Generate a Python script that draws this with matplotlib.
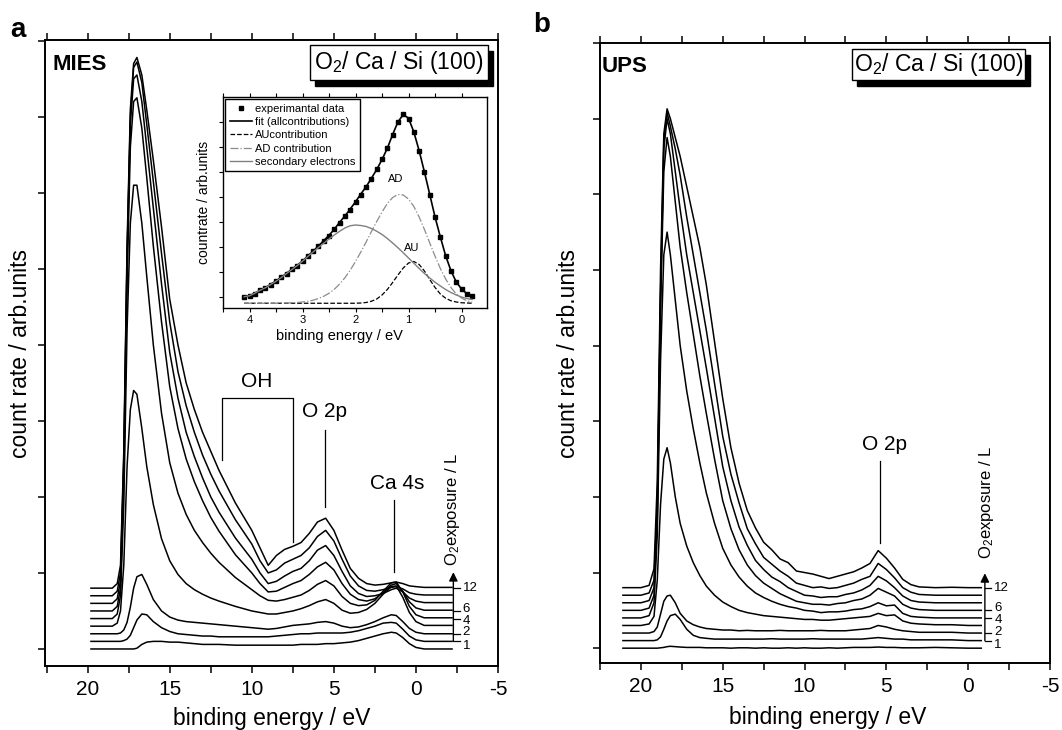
import matplotlib
matplotlib.use("Agg")
import matplotlib.pyplot as plt
import numpy as np
from matplotlib.patches import Rectangle

plt.rcParams['font.family'] = ['Liberation Sans', 'DejaVu Sans']
plt.rcParams['mathtext.fontset'] = 'custom'
plt.rcParams['mathtext.rm'] = 'Liberation Sans'
plt.rcParams['mathtext.it'] = 'Liberation Sans:italic'

W, H = 1062, 730

# ---- MIES spectra (panel a), heights above each curve's own baseline ----
exposures = [0, 1, 2, 3, 4, 6, 8, 10, 12]
labelled = [1, 2, 4, 6, 12]
label_nudge = [-0.6, 0.2, -0.3, 0.25, 0.0]   # small vertical shifts of the scale numbers

mies_energy = [19.8, 18.5, 18.2, 18.0, 17.8, 17.6, 17.4, 17.2, 17.0, 16.7,
               16.4, 16.0, 15.5, 15.0, 14.5, 14.0, 13.5, 13.0, 12.5, 12.0,
               11.0, 10.0, 9.5, 9.0, 8.5, 8.0, 7.5, 7.0, 6.5, 6.0,
               5.5, 5.0, 4.5, 4.0, 3.5, 3.0, 2.5, 2.0, 1.5, 1.2,
               0.8, 0.4, 0.0, -0.5, -2.2]
mies_0L = [0, 0, 0, 0, 0, 0, 0, 0, 0.1, 0.6, 0.9, 1.0, 1.0, 0.9, 0.9, 0.8, 0.7, 0.6, 0.6, 0.6,
           0.5, 0.5, 0.5, 0.5, 0.5, 0.5, 0.5, 0.6, 0.6, 0.6, 0.7, 0.7, 0.8, 0.9, 1.1, 1.4, 1.7, 2.0, 2.2, 2.1,
           1.5, 0.7, 0.2, 0.0, 0.0]
mies_1L = [0, 0, 0, 0, 0.1, 0.3, 0.8, 1.8, 2.8, 3.6, 3.5, 2.6, 1.8, 1.3, 1.0, 0.9, 0.8, 0.7, 0.7, 0.6,
           0.6, 0.6, 0.6, 0.6, 0.7, 0.8, 0.9, 1.0, 1.0, 1.1, 1.1, 1.1, 1.1, 1.2, 1.4, 1.7, 2.0, 2.4, 2.5, 2.4,
           1.6, 0.7, 0.2, 0.0, 0.0]
mies_2L = [0, 0, 0, 0.1, 0.5, 1.5, 3.5, 6.0, 7.5, 7.8, 6.5, 4.5, 3.0, 2.2, 1.8, 1.6, 1.5, 1.4, 1.3, 1.2,
           1.0, 0.8, 0.7, 0.6, 0.7, 0.9, 1.1, 1.2, 1.3, 1.5, 1.6, 1.4, 1.0, 0.8, 0.9, 1.2, 1.6, 2.1, 2.5, 2.4,
           1.6, 0.7, 0.2, 0.0, 0.0]
mies_3L = [0, 0, 0.4, 2, 8, 21, 28.5, 31, 30.5, 26, 21, 16, 11.5, 8.6, 6.8, 5.6, 4.8, 4.2, 3.7, 3.3,
           2.6, 2.0, 1.8, 1.6, 1.6, 1.8, 2.0, 2.3, 2.7, 3.2, 3.5, 3.0, 2.1, 1.7, 1.8, 2.2, 3.0, 4.2, 5.2, 5.3,
           3.8, 1.8, 0.6, 0.1, 0.1]
mies_4L = [0, 0, 0.6, 3, 15, 38, 52, 57, 57, 52, 45, 36, 27, 20.5, 16.5, 13.7, 11.6, 10, 8.6, 7.4,
           5.4, 3.8, 3.0, 2.4, 2.3, 2.5, 2.8, 3.1, 3.7, 4.5, 5.0, 4.3, 2.9, 2.0, 1.7, 1.8, 2.4, 3.6, 4.7, 4.8,
           3.5, 1.6, 0.5, 0.1, 0.1]
mies_6L = [0, 0, 0.6, 3, 17, 43, 61, 67, 67.5, 63.5, 57, 48, 38, 29.5, 24, 20, 17, 14.5, 12.3, 10.5,
           7.4, 5.0, 3.6, 2.5, 2.6, 3.1, 3.6, 4.0, 4.8, 5.8, 6.4, 5.4, 3.6, 2.2, 1.5, 1.3, 1.6, 2.4, 3.4, 3.6,
           2.6, 1.2, 0.4, 0.1, 0.1]
mies_8L = [0, 0, 0.6, 3, 18, 45, 63, 69, 69.5, 66, 60, 52, 42, 33, 27, 22.5, 19.3, 16.5, 14, 12,
           8.6, 5.8, 4.0, 2.6, 2.9, 3.6, 4.2, 4.6, 5.6, 7.0, 7.6, 6.3, 4.2, 2.3, 1.3, 0.9, 1.0, 1.3, 1.8, 2.0,
           1.5, 0.7, 0.3, 0.1, 0.1]
mies_10L = [0, 0, 0.6, 3, 18, 45, 63, 69.5, 70.2, 67.5, 62, 54.5, 45, 36, 29.5, 25, 21.5, 18.5, 16, 13.8,
            10, 6.8, 4.6, 3.0, 3.4, 4.3, 4.8, 5.3, 6.3, 7.8, 8.6, 7.2, 4.8, 2.6, 1.3, 0.7, 0.6, 0.8, 1.1, 1.2,
            0.9, 0.4, 0.2, 0.1, 0.1]
mies_12L = [0, 0, 0.6, 3, 18, 45, 63, 69, 69.8, 67.5, 62.9, 56.3, 47.5, 38, 32, 27, 23.5, 20.5, 18, 15.5,
            11.2, 7.6, 5.3, 3.0, 4.3, 5.1, 5.5, 6.0, 7.2, 8.7, 9.2, 7.6, 5.0, 2.6, 1.3, 0.6, 0.4, 0.5, 0.7, 0.8,
            0.6, 0.3, 0.2, 0.1, 0.1]
mies_spectra = [mies_0L, mies_1L, mies_2L, mies_3L, mies_4L, mies_6L, mies_8L, mies_10L, mies_12L]

# ---- UPS spectra (panel b) ----
ups_energy = [21.1, 20.0, 19.5, 19.2, 19.0, 18.8, 18.6, 18.4, 18.2, 17.9,
              17.6, 17.2, 16.8, 16.4, 16.0, 15.5, 15.0, 14.5, 14.0, 13.5,
              13.0, 12.5, 12.0, 11.5, 11.0, 10.5, 10.0, 9.5, 9.0, 8.5,
              8.0, 7.5, 7.0, 6.5, 6.0, 5.5, 5.0, 4.5, 4.0, 3.5,
              3.0, 2.0, 1.0, 0.0, -0.8]
ups_0L = [0, 0, 0, 0, 0, 0.05, 0.1, 0.2, 0.25, 0.2, 0.15, 0.1, 0.1, 0.1, 0.05, 0.05, 0.05, 0.0, 0.05, 0.05,
          0.0, 0.05, 0.0, 0.0, 0.05, 0.0, 0.05, 0.0, 0.0, 0.05, 0.0, 0.05, 0.1, 0.1, 0.1, 0.15, 0.1, 0.1, 0.05, 0.05,
          0.05, 0.1, 0.05, 0.0, 0.0]
ups_1L = [0, 0, 0, 0, 0.1, 0.5, 1.5, 2.6, 3.3, 3.5, 2.8, 1.5, 0.7, 0.4, 0.3, 0.2, 0.2, 0.2, 0.2, 0.2,
          0.2, 0.2, 0.25, 0.2, 0.2, 0.2, 0.2, 0.25, 0.2, 0.2, 0.2, 0.2, 0.2, 0.2, 0.3, 0.4, 0.3, 0.2, 0.2, 0.1,
          0.1, 0.1, 0.1, 0, 0]
ups_2L = [0, 0, 0, 0.2, 0.8, 2.5, 4.2, 4.9, 5.0, 4.0, 2.6, 1.6, 1.1, 0.8, 0.6, 0.5, 0.4, 0.4, 0.3, 0.35,
          0.3, 0.3, 0.3, 0.35, 0.3, 0.3, 0.3, 0.3, 0.35, 0.3, 0.3, 0.3, 0.4, 0.5, 0.6, 1.0, 0.8, 0.5, 0.3, 0.2,
          0.1, 0.1, 0.1, 0, 0]
ups_3L = [0, 0, 0.2, 1.2, 6, 16, 22, 23.5, 21.5, 17, 13.5, 10.5, 8.3, 6.6, 5.2, 4.0, 3.1, 2.5, 2.0, 1.7,
          1.5, 1.3, 1.2, 1.1, 1.0, 0.9, 0.8, 0.8, 0.7, 0.7, 0.8, 0.9, 1.0, 1.1, 1.2, 1.6, 1.3, 1.4, 0.6, 0.3,
          0.2, 0.1, 0.1, 0, 0]
ups_4L = [0, 0, 0.3, 2, 11, 34, 48, 51, 48, 42, 36, 30, 25, 20.5, 16.5, 12.5, 9.2, 7.0, 5.4, 4.2,
          3.3, 2.7, 2.2, 1.8, 1.5, 1.3, 1.0, 0.9, 0.7, 0.8, 0.8, 0.9, 1.1, 1.2, 1.5, 2.0, 1.6, 1.7, 0.6, 0.2,
          0.1, 0, 0, 0, 0]
ups_6L = [0, 0, 0.3, 2, 12, 40, 58, 62.5, 60, 54, 48, 42, 36.5, 31, 26, 20, 14.5, 10.8, 8.0, 6.0,
          4.6, 3.6, 2.9, 2.2, 1.7, 1.2, 1.0, 0.8, 0.8, 0.7, 0.9, 1.0, 1.3, 1.5, 2.0, 2.9, 2.4, 1.9, 0.8, 0.3,
          0.1, 0, 0, 0, 0]
ups_8L = [0, 0, 0.3, 2, 12, 40, 60, 64, 62, 57, 52, 46, 41, 36, 31, 24.5, 18, 13.5, 10, 7.6,
          5.6, 4.4, 3.4, 2.8, 2.0, 1.5, 1.0, 0.9, 0.7, 0.8, 0.8, 1.1, 1.3, 1.7, 2.3, 3.5, 2.9, 2.0, 0.9, 0.3,
          0.1, 0, 0, 0, 0]
ups_10L = [0, 0, 0.3, 2, 12, 40, 60, 63.8, 62, 59, 55.5, 50, 45, 40, 35, 28, 21, 16, 12.2, 8.8,
           6.8, 5.0, 4.1, 3.2, 2.5, 1.6, 1.3, 1.0, 1.1, 0.9, 1.0, 1.3, 1.6, 2.1, 2.5, 4.2, 3.4, 2.3, 1.0, 0.4,
           0.1, 0, 0, 0, 0]
ups_12L = [0, 0, 0.3, 2.5, 14, 42, 60, 63.3, 62, 59.5, 57, 53, 49, 45, 40, 32.5, 25, 18.5, 13.8, 10.2,
           7.9, 6.0, 5.0, 3.8, 3.3, 2.2, 2.0, 1.8, 1.5, 1.2, 1.5, 1.8, 2.1, 2.6, 3.2, 4.9, 3.9, 2.6, 1.1, 0.4,
           0.1, 0.0, 0.05, 0.0, 0.0]
ups_spectra = [ups_0L, ups_1L, ups_2L, ups_3L, ups_4L, ups_6L, ups_8L, ups_10L, ups_12L]

# ---- inset: fit of the MIES Ca 4s region ----
fit_energy = [4.1, 4.0, 3.9, 3.8, 3.7, 3.6, 3.5, 3.4, 3.3, 3.2, 3.1, 3.0, 2.9, 2.8, 2.7,
              2.6, 2.5, 2.4, 2.3, 2.2, 2.1, 2.0, 1.9, 1.8, 1.7, 1.6, 1.5, 1.4, 1.3, 1.2,
              1.1, 1.0, 0.9, 0.8, 0.7, 0.6, 0.5, 0.4, 0.3, 0.2, 0.1, 0.0, -0.1, -0.2]
exp_counts = [0.01, 0.06, 0.14, 0.27, 0.38, 0.5, 0.65, 0.79, 0.94, 1.12, 1.26, 1.45, 1.63, 1.84, 2.03,
              2.26, 2.46, 2.72, 2.98, 3.25, 3.5, 3.82, 4.1, 4.42, 4.74, 5.12, 5.52, 5.97, 6.48, 7.02,
              7.33, 7.14, 6.62, 5.84, 5.02, 4.1, 3.2, 2.42, 1.64, 1.06, 0.6, 0.33, 0.13, 0.03]
fit_total = [0.01, 0.05, 0.15, 0.27, 0.37, 0.51, 0.64, 0.79, 0.95, 1.11, 1.27, 1.44, 1.64, 1.83, 2.04,
             2.25, 2.47, 2.71, 2.99, 3.24, 3.52, 3.81, 4.12, 4.41, 4.75, 5.1, 5.5, 5.95, 6.5, 7.0,
             7.3, 7.15, 6.6, 5.85, 5.0, 4.1, 3.2, 2.4, 1.65, 1.05, 0.6, 0.32, 0.13, 0.03]
au_part = [-0.25] * 21 + [-0.25, -0.24, -0.22, -0.17, -0.08, 0.08, 0.3, 0.58, 0.88,
                          1.16, 1.36, 1.42, 1.3, 1.04, 0.7, 0.38, 0.12, -0.05, -0.15,
                          -0.2, -0.23, -0.24, -0.25]
ad_part = [-0.25, -0.25, -0.25, -0.25, -0.25, -0.25, -0.25, -0.24, -0.24, -0.23, -0.22, -0.2, -0.17, -0.13, -0.06,
           0.03, 0.15, 0.31, 0.52, 0.77, 1.07, 1.42, 1.8, 2.2, 2.62, 3.02, 3.4, 3.74, 3.98, 4.1,
           4.08, 3.92, 3.62, 3.2, 2.7, 2.16, 1.63, 1.14, 0.72, 0.38, 0.12, -0.04, -0.15, -0.21]
secondary = [0.01, 0.05, 0.15, 0.27, 0.37, 0.5, 0.63, 0.78, 0.94, 1.1, 1.26, 1.43, 1.62, 1.8, 1.98,
             2.15, 2.32, 2.48, 2.63, 2.76, 2.85, 2.88, 2.86, 2.82, 2.74, 2.63, 2.5, 2.34, 2.16, 1.97,
             1.77, 1.56, 1.35, 1.14, 0.94, 0.76, 0.59, 0.44, 0.3, 0.18, 0.08, 0.0, -0.06, -0.1]


def fx(px):
    return px / W


def fy(py):
    return 1 - py / H


fig = plt.figure(figsize=(W / 100, H / 100), dpi=100)


def setup_main(ax, xlim, ylim):
    ax.set_xlim(*xlim)
    ax.set_ylim(*ylim)
    ax.set_xticks([20, 15, 10, 5, 0, -5])
    ax.set_xticklabels(['20', '15', '10', '5', '0', '-5'])
    ax.set_xticks([22.5, 17.5, 12.5, 7.5, 2.5, -2.5], minor=True)
    ax.set_yticks(np.arange(0, 81, 10))
    ax.set_yticklabels([])
    ax.tick_params(axis='both', which='both', direction='out', length=5, width=1.1,
                   top=True, right=False, labelsize=15, pad=5)
    for s in ax.spines.values():
        s.set_linewidth(1.4)
    ax.set_xlabel('binding energy / eV', fontsize=16.5)
    ax.set_ylabel('count rate / arb.units', fontsize=16.5)


def exposure_scale(ax, x_arrow, tick_len, x_text, y_top, text_xy):
    ax.annotate('', xy=(x_arrow, y_top), xytext=(x_arrow, 1),
                arrowprops=dict(arrowstyle='-|>', color='k', lw=1.0, mutation_scale=13,
                                shrinkA=0, shrinkB=0))
    for e, dy in zip(labelled, label_nudge):
        k = exposures.index(e)
        ax.plot([x_arrow, x_arrow - tick_len], [k, k], color='k', lw=0.9)
        ax.text(x_text, k + dy, str(e), fontsize=9.5, va='center', ha='left')
    ax.text(text_xy[0], text_xy[1], r'O$_2$exposure / L', rotation=90,
            fontsize=12, ha='center', va='center')


def title_box(x0, y0, x1, y1, label):
    fig.patches.append(Rectangle((fx(x0 + 5), fy(y1 + 6)), (x1 - x0) / W, (y1 - y0) / H,
                                 transform=fig.transFigure, facecolor='k', edgecolor='k'))
    fig.patches.append(Rectangle((fx(x0), fy(y1)), (x1 - x0) / W, (y1 - y0) / H,
                                 transform=fig.transFigure, facecolor='white', edgecolor='k', lw=1.0))
    fig.text(fx((x0 + x1) / 2), fy((y0 + y1) / 2), label, fontsize=16.5, ha='center', va='center')


# ---------------- panel a ----------------
ax_a = fig.add_axes([fx(45), fy(666), 453 / W, 626 / H])
setup_main(ax_a, (22.6, -5), (-2.24, 80.1))
ax_a.xaxis.set_label_coords(0.5, -0.065)
ax_a.yaxis.set_label_coords(-0.029, 0.5)
for k, spec in enumerate(mies_spectra):
    ax_a.plot(mies_energy, np.array(spec) + k, color='k', lw=1.1)

# peak assignments
ax_a.plot([11.83, 11.83, 7.5, 7.5], [24.9, 33.0, 33.0, 14.1], color='k', lw=0.9)
ax_a.text(9.7, 35.2, 'OH', fontsize=15, ha='center', va='center')
ax_a.plot([5.55, 5.55], [18.7, 28.8], color='k', lw=0.9)
ax_a.text(5.55, 31.2, 'O 2p', fontsize=15, ha='center', va='center')
ax_a.plot([1.34, 1.34], [10.1, 19.6], color='k', lw=0.9)
ax_a.text(1.16, 21.7, 'Ca 4s', fontsize=15, ha='center', va='center')
exposure_scale(ax_a, -2.28, 0.38, -2.85, 10.1, (-2.2, 18.3))

fig.text(fx(10), fy(37), 'a', fontsize=20, fontweight='bold', va='baseline')
fig.text(fx(52), fy(70), 'MIES', fontsize=16, fontweight='bold', va='baseline')
title_box(310, 45, 488, 80, r'O$_2$/ Ca / Si (100)')

# ---------------- inset ----------------
ax_in = fig.add_axes([fx(223), fy(308), 264 / W, 211 / H])
ax_in.set_xlim(4.5, -0.48)
ax_in.set_ylim(-0.44, 8.0)
ax_in.plot(fit_energy, exp_counts, 's', color='k', ms=3, label='experimantal data')
ax_in.plot(fit_energy, fit_total, '-', color='k', lw=1.2, label='fit (allcontributions)')
ax_in.plot(fit_energy, au_part, '--', color='k', lw=0.9, label='AUcontribution')
ax_in.plot(fit_energy, ad_part, '-.', color='0.55', lw=0.9, label='AD contribution')
ax_in.plot(fit_energy, secondary, '-', color='0.5', lw=1.0, label='secondary electrons')
ax_in.text(1.25, 4.7, 'AD', fontsize=8, ha='center', va='center')
ax_in.text(0.95, 1.95, 'AU', fontsize=8, ha='center', va='center')
ax_in.set_xticks([4, 3, 2, 1, 0])
ax_in.set_xticks([4.5, 3.5, 2.5, 1.5, 0.5], minor=True)
ax_in.set_yticks(np.arange(0, 8, 1))
ax_in.set_yticklabels([])
ax_in.tick_params(axis='both', which='both', direction='out', length=3, width=0.8,
                  top=True, labelsize=8, pad=2)
for s in ax_in.spines.values():
    s.set_linewidth(1.0)
ax_in.set_xlabel('binding energy / eV', fontsize=10.5, labelpad=2)
ax_in.xaxis.set_label_coords(0.44, -0.1)
ax_in.set_ylabel('countrate / arb.units', fontsize=10, labelpad=4)
leg = ax_in.legend(loc='upper left', fontsize=8, frameon=True, fancybox=False,
                   edgecolor='k', borderpad=0.4, labelspacing=0.3, handlelength=2.0,
                   handletextpad=0.3, borderaxespad=0.2, framealpha=1)
leg.get_frame().set_linewidth(1.0)

# ---------------- panel b ----------------
ax_b = fig.add_axes([fx(600), fy(663), 450 / W, 620 / H])
setup_main(ax_b, (22.45, -5), (-1.96, 79.1))
ax_b.xaxis.set_label_coords(0.506, -0.069)
ax_b.yaxis.set_label_coords(-0.044, 0.5)
for k, spec in enumerate(ups_spectra):
    ax_b.plot(ups_energy, np.array(spec) + k, color='k', lw=1.1)

ax_b.plot([5.4, 5.4], [13.9, 24.7], color='k', lw=0.9)
ax_b.text(5.1, 26.9, 'O 2p', fontsize=15, ha='center', va='center')
exposure_scale(ax_b, -1.02, 0.38, -1.6, 9.9, (-1.15, 19.2))

fig.text(fx(533), fy(32), 'b', fontsize=20, fontweight='bold', va='baseline')
fig.text(fx(602), fy(72), 'UPS', fontsize=16, fontweight='bold', va='baseline')
title_box(852, 49, 1025, 80, r'O$_2$/ Ca / Si (100)')

fig.savefig('out.png', dpi=100)
